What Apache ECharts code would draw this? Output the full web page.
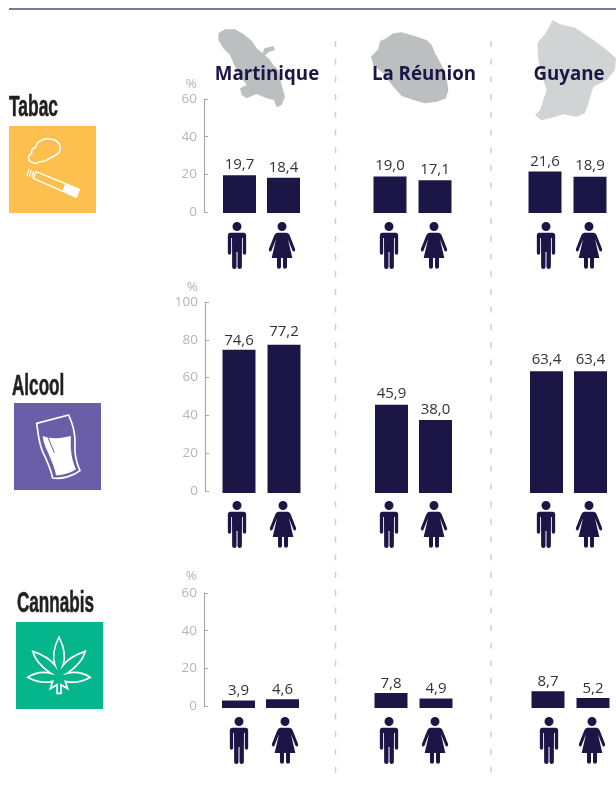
<!DOCTYPE html>
<html><head><meta charset="utf-8">
<style>html,body{margin:0;padding:0;background:#fff}#c{width:616px;height:787px}</style>
<script src="https://cdn.jsdelivr.net/npm/echarts@6/dist/echarts.min.js"></script>
</head><body><div id="c"></div>
<script>
const regions = ['Martinique', 'La Réunion', 'Guyane'];
const substances = ['Tabac', 'Alcool', 'Cannabis'];
const sexes = ['Hommes', 'Femmes'];
const tabacMen = [19.7, 19.0, 21.6];
const tabacWomen = [18.4, 17.1, 18.9];
const alcoolMen = [74.6, 45.9, 63.4];
const alcoolWomen = [77.2, 38.0, 63.4];
const cannabisMen = [3.9, 7.8, 8.7];
const cannabisWomen = [4.6, 4.9, 5.2];
const axisMax = [60, 100, 60];

const NAVY = '#1c1647', GREY = '#a7a9ac';
const rowsMen = [tabacMen, alcoolMen, cannabisMen];
const rowsWomen = [tabacWomen, alcoolWomen, cannabisWomen];
// layout
const axisBox = [{x:204,top:99,h:113,gap:8},{x:205,top:302,h:189,gap:8},{x:204,top:593,h:113,gap:10}];
const barBottom = [213, 493, 708];
const pxPerUnit = 1.92;
const barX = [
  [[223,267],[373,418],[528,573]],
  [[222,267],[375,419],[530,574]],
  [[222,266],[374,419],[531,576]]
];
const labelLift = [
  [[3,2],[3,3],[2,3]],
  [[2,6],[4,3],[4,4]],
  [[2,2],[2,2],[2,2]]
];
const personX = [
  [[237,282],[389,434],[546,589]],
  [[237,283],[389,434],[546,589]],
  [[239,285],[389,435],[549,592]]
];
const personY = [222, 501, 717];

function reg(name, d){ echarts.graphic.registerShape(name, echarts.graphic.extendPath(d)); }
reg('man','M0,0 a13.500,13.500 0 1 1 -0.01,0 Z M-13,32 L13,32 Q15,32 17,32 L21,32 Q27.500,33 27.500,40 L27.500,92 Q27.500,98 22.500,98 Q17.500,98 17.500,92 L17.500,48 L15,48 L14.500,135 Q14.500,141 8,141 Q1.500,141 1.500,135 L1.500,90 L-1.500,90 L-1.500,135 Q-1.500,141 -8,141 Q-14.500,141 -14.500,135 L-15,48 L-17.500,48 L-17.500,92 Q-17.500,98 -22.500,98 Q-27.500,98 -27.500,92 L-27.500,40 Q-27.500,33 -21,32 Z');
reg('woman','M0,0 a13.500,13.500 0 1 1 -0.01,0 Z M-14,32 L14,32 Q20,32 23,40 L39,80 Q41,86 37,88 Q33,90 31,85 L18,52 L31,108 L15,108 L15,134 Q15,140 9,140 Q3,140 3,134 L3,108 L-3,108 L-3,134 Q-3,140 -9,140 Q-15,140 -15,134 L-15,108 L-31,108 L-18,52 L-31,85 Q-33,90 -37,88 Q-41,86 -39,80 L-23,40 Q-20,32 -14,32 Z');
reg('smoke','M85,128 C68,125 66,108 80,100 C78,90 84,84 92,82 C95,62 120,52 140,58 C165,62 172,85 160,100 C150,110 135,112 125,120 C115,128 105,122 98,128 C93,133 89,130 85,128 Z');
reg('cigarette','M93,155 L223,208 L214,232 L85,175 Z');
reg('filter','M180,192 L223,208 L214,232 L172,214 Z');
reg('glass','M80,70 L176,45 C190,75 196,100 195,130 C192,165 200,190 210,212 C190,228 155,238 128,234 C122,205 110,180 98,155 C85,125 85,100 80,70 Z');
reg('beer','M98,108 C125,118 155,115 183,108 C180,145 185,180 198,208 C180,220 155,226 138,226 C135,205 125,185 115,160 C105,140 100,125 98,108 Z');
reg('leaf','M135,226 L147,226 L147,200 L167,212 L160,190 C190,197 215,190 235,178 C215,165 190,160 165,166 C190,150 212,130 220,100 C195,108 170,120 153,142 C163,115 155,85 141,57 C127,85 119,115 129,142 C112,120 87,108 62,100 C70,130 92,150 117,166 C92,160 67,165 47,178 C67,190 92,197 122,190 L115,212 L135,200 Z');
reg('mapM','M25,40 L45,28 L75,28 L100,42 L125,62 L140,85 L158,100 L163,85 L190,78 L195,90 L175,97 L165,105 L180,120 L190,135 L205,150 L215,195 L225,230 L215,255 L200,262 L192,240 L170,235 L140,222 L110,235 L95,225 L90,205 L110,195 L95,175 L75,140 L60,105 L40,85 L25,60 Z');
reg('mapR','M150,78 L165,72 L190,55 L215,52 L250,62 L290,75 L305,90 L315,115 L335,150 L350,190 L355,225 L348,250 L320,260 L285,265 L250,255 L215,243 L190,215 L160,175 L130,150 L123,125 L145,102 Z');
reg('mapG','M668,15 L690,28 L735,38 L790,75 L830,105 L858,130 L855,165 L830,195 L790,215 L775,265 L765,295 L740,305 L700,298 L660,310 L635,316 L615,300 L630,285 L640,255 L650,225 L635,180 L625,135 L622,85 L650,50 Z');

const s3 = (o) => Object.assign({scaleX:1/3, scaleY:1/3, silent:true}, o);
const g = [];
// maps (behind titles)
g.push(s3({type:'mapM',x:210,y:20,z:0,style:{fill:'#bcbec0'}}));
g.push(s3({type:'mapR',x:330,y:15,z:0,style:{fill:'#bcbec0'}}));
g.push(s3({type:'mapG',x:330,y:15,z:0,style:{fill:'#d1d3d4'}}));
// rule and separators
g.push({type:'line',silent:true,shape:{x1:9,y1:9,x2:616,y2:9},style:{stroke:'#7d7796',lineWidth:2}});
[335.5,491].forEach(x=>g.push({type:'line',silent:true,shape:{x1:x,y1:41,x2:x,y2:777},style:{stroke:'#cfcfcf',lineWidth:1.5,lineDash:[6,11.7]}}));
// region titles
const titleX=[267,424,569];
regions.forEach((t,i)=>g.push({type:'text',silent:true,x:titleX[i],y:75,z:5,style:{text:t,fill:NAVY,font:'bold 18.700px "Open Sans"',textAlign:'center',textVerticalAlign:'middle'}}));
// substance labels
const subPos=[[9,108,0.6],[12,387,0.59],[17,604,0.59]];
substances.forEach((t,i)=>g.push({type:'text',silent:true,x:subPos[i][0],y:subPos[i][1],scaleX:subPos[i][2],style:{text:t,fill:'#231f20',stroke:'#231f20',lineWidth:0.6,font:'bold 29px "Liberation Sans"',textAlign:'left',textVerticalAlign:'middle'}}));
// icon squares
g.push({type:'rect',silent:true,shape:{x:9,y:126,width:87,height:87},style:{fill:'#fdbf4d'}});
g.push({type:'rect',silent:true,shape:{x:14,y:403,width:87,height:87},style:{fill:'#6b5ea8'}});
g.push({type:'rect',silent:true,shape:{x:16,y:622,width:87,height:87},style:{fill:'#05b58c'}});
// tobacco icon
g.push(s3({type:'smoke',x:5,y:120,z:2,style:{fill:'none',stroke:'#fff',lineWidth:4.5}}));
g.push(s3({type:'cigarette',x:5,y:120,z:2,style:{fill:'none',stroke:'#fff',lineWidth:4.5}}));
g.push(s3({type:'filter',x:5,y:120,z:2,style:{fill:'#fff'}}));
[[72,147,66,168],[79,150,73,170],[86,153,80,172]].forEach(l=>g.push(s3({type:'line',x:5,y:120,z:2,shape:{x1:l[0],y1:l[1],x2:l[2],y2:l[3]},style:{stroke:'#fff',lineWidth:3.5}})));
// beer icon
g.push(s3({type:'glass',x:10,y:400,z:2,style:{fill:'none',stroke:'#fff',lineWidth:5}}));
g.push(s3({type:'beer',x:10,y:400,z:2,style:{fill:'#fff'}}));
g.push(s3({type:'line',x:10,y:400,z:3,shape:{x1:113,y1:110,x2:133,y2:158},style:{stroke:'#6b5ea8',lineWidth:3}}));
// cannabis icon
g.push(s3({type:'leaf',x:12,y:618,z:2,style:{fill:'none',stroke:'#fff',lineWidth:5}}));
// people
personX.forEach((row,r)=>row.forEach(pair=>{
  g.push(s3({type:'man',x:pair[0],y:personY[r],style:{fill:NAVY}}));
  g.push(s3({type:'woman',x:pair[1],y:personY[r],style:{fill:NAVY}}));
}));

const grid=[], xAxis=[], yAxis=[], series=[];
const fmt = v => v.toFixed(1).replace('.', ',');
axisBox.forEach((b,r)=>{
  const idx=grid.length;
  grid.push({left:b.x,top:b.top,width:10,height:b.h});
  xAxis.push({gridIndex:idx,type:'category',show:false,data:sexes});
  yAxis.push({gridIndex:idx,type:'value',min:0,max:axisMax[r],interval:20,
    name:'%',nameLocation:'end',nameGap:b.gap,
    nameTextStyle:{color:'#b5b5b5',fontFamily:'Open Sans',fontSize:13.5,align:'right',padding:[0,7,0,0]},
    axisLine:{show:true,lineStyle:{color:GREY,width:1.2}},
    axisTick:{show:true,inside:true,length:4,lineStyle:{color:GREY,width:1}},
    splitLine:{show:false},
    axisLabel:{color:'#b5b5b5',fontFamily:'Open Sans',fontSize:13.5,margin:7,padding:[0,0,5,0]}});
});
substances.forEach((s,r)=>regions.forEach((reg_,c)=>{
  const idx=grid.length, m=barX[r][c][0], f=barX[r][c][1], h=axisMax[r]*pxPerUnit;
  grid.push({left:m-5.5,width:2*(f-m),top:barBottom[r]-h,height:h});
  xAxis.push({gridIndex:idx,type:'category',show:false,data:sexes});
  yAxis.push({gridIndex:idx,type:'value',show:false,min:0,max:axisMax[r]});
  const vals=[rowsMen[r][c],rowsWomen[r][c]];
  series.push({type:'bar',name:s+' '+reg_,xAxisIndex:idx,yAxisIndex:idx,barWidth:33,silent:true,
    itemStyle:{color:NAVY},
    data:vals.map((v,k)=>({value:v,label:{distance:labelLift[r][c][k]}})),
    label:{show:true,position:'top',color:'#333',fontFamily:'Open Sans',fontSize:15,formatter:p=>fmt(p.value)}});
}));

const chart=echarts.init(document.getElementById('c'),null,{renderer:'canvas',width:616,height:787});
chart.setOption({animation:false,backgroundColor:'#fff',grid,xAxis,yAxis,series,graphic:{elements:g}});
</script></body></html>
